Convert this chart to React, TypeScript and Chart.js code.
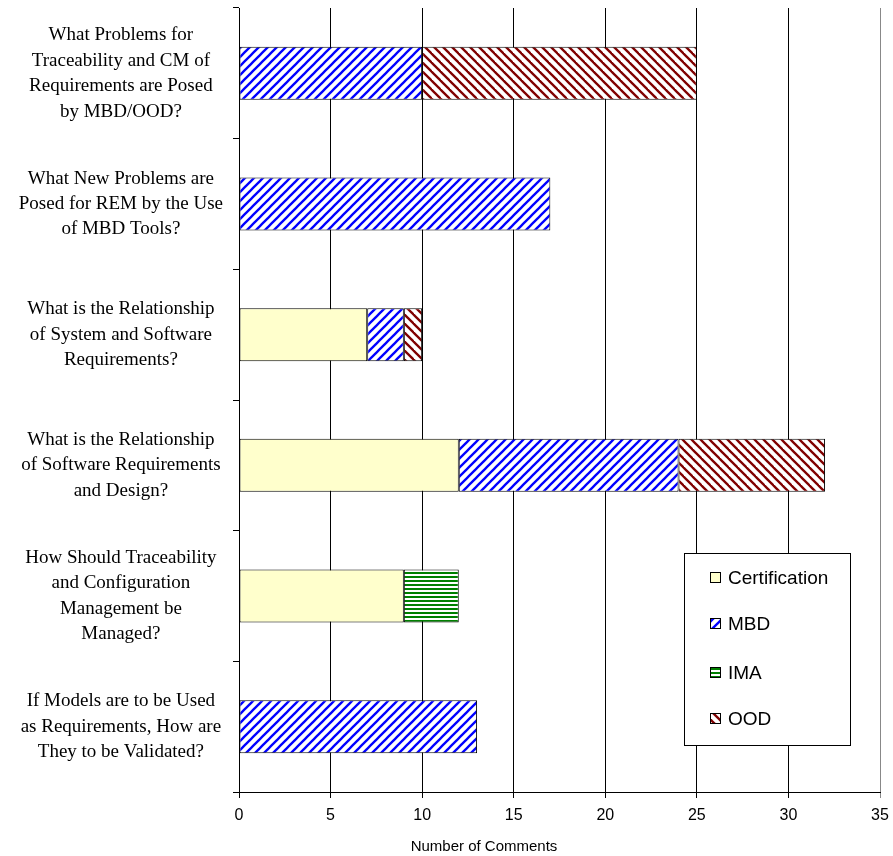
import React, { useEffect, useRef } from "react";
import { Chart, registerables } from "chart.js";

Chart.register(...registerables);

// Question categories (top to bottom), each split into display lines
const questions: string[][] = [
  ["What Problems for", "Traceability and CM of", "Requirements are Posed", "by MBD/OOD?"],
  ["What New Problems are", "Posed for REM by the Use", "of MBD Tools?"],
  ["What is the Relationship", "of System and Software", "Requirements?"],
  ["What is the Relationship", "of Software Requirements", "and Design?"],
  ["How Should Traceability", "and Configuration", "Management be", "Managed?"],
  ["If Models are to be Used", "as Requirements, How are", "They to be Validated?"],
];

// Number of comments per topic area
const certification: (number | null)[] = [null, null, 7, 12, 9, null];
const mbd: (number | null)[] = [10, 17, 2, 12, null, 13];
const ima: (number | null)[] = [null, null, null, null, 3, null];
const ood: (number | null)[] = [15, null, 1, 8, null, null];

const seriesNames = ["Certification", "MBD", "IMA", "OOD"];
const xTitle = "Number of Comments";
const xMin = 0;
const xMax = 35;
const xStep = 5;

function makeTile(size: number, paint: (c: CanvasRenderingContext2D) => void): CanvasPattern {
  const cv = document.createElement("canvas");
  cv.width = size;
  cv.height = size;
  const c = cv.getContext("2d")!;
  c.fillStyle = "#ffffff";
  c.fillRect(0, 0, size, size);
  paint(c);
  return c.createPattern(cv, "repeat")!;
}

function diagonal(color: string, rising: boolean): CanvasPattern {
  const s = 9;
  return makeTile(s, (c) => {
    c.strokeStyle = color;
    c.lineWidth = 2.3;
    for (let k = -1; k <= 2; k++) {
      c.beginPath();
      if (rising) {
        c.moveTo(-3, k * s + 3);
        c.lineTo(s + 3, k * s - s - 3);
      } else {
        c.moveTo(-3, k * s - 3);
        c.lineTo(s + 3, k * s + s + 3);
      }
      c.stroke();
    }
  });
}

function horizontal(color: string): CanvasPattern {
  return makeTile(4, (c) => {
    c.fillStyle = color;
    c.fillRect(0, 0, 4, 2);
  });
}

export default function App() {
  const ref = useRef<HTMLCanvasElement>(null);

  useEffect(() => {
    if (!ref.current) return;
    const fills: (string | CanvasPattern)[] = [
      "#FFFFCC",
      diagonal("#0000FF", true),
      horizontal("#008000"),
      diagonal("#800000", false),
    ];

    // Boxed legend inside the plot, plus the axis title below the ticks
    const overlay = {
      id: "overlay",
      afterDraw(chart: Chart) {
        const c = chart.ctx;
        c.save();
        c.fillStyle = "#ffffff";
        c.fillRect(684, 553, 166, 192);
        c.strokeStyle = "#000000";
        c.lineWidth = 1;
        c.strokeRect(684.5, 553.5, 166, 192);
        c.font = '19px "Liberation Sans", Arial, sans-serif';
        c.textBaseline = "middle";
        c.textAlign = "left";
        const ys = [578, 624, 673, 719];
        seriesNames.forEach((name, i) => {
          const y = ys[i];
          c.fillStyle = fills[i] as any;
          c.fillRect(710, y - 5, 10, 10);
          c.strokeStyle = "#000000";
          c.strokeRect(710.5, y - 5.5, 10, 10);
          c.fillStyle = "#000000";
          c.fillText(name, 728, y + 1);
        });

        c.font = '15px "Liberation Sans", Arial, sans-serif';
        c.textAlign = "center";
        c.textBaseline = "middle";
        c.fillStyle = "#000000";
        c.fillText(xTitle, 484, 847);
        c.restore();
      },
    };

    const values = [certification, mbd, ima, ood];
    const chart = new Chart(ref.current, {
      type: "bar",
      data: {
        labels: questions,
        datasets: seriesNames.map((name, i) => ({
          label: name,
          data: values[i],
          backgroundColor: fills[i] as any,
          borderColor: "#000000",
          borderWidth: 1,
          borderSkipped: false,
          categoryPercentage: 1,
          barPercentage: 0.405,
        })),
      },
      options: {
        indexAxis: "y",
        responsive: false,
        animation: false,
        devicePixelRatio: 1,
        layout: { padding: { top: 8, right: 13, left: 0, bottom: 0 } },
        plugins: {
          legend: { display: false },
          tooltip: { enabled: false },
        },
        scales: {
          x: {
            stacked: true,
            min: xMin,
            max: xMax,
            ticks: {
              stepSize: xStep,
              color: "#000000",
              padding: 8,
              font: { family: '"Liberation Sans", Arial, sans-serif', size: 16 },
            },
            grid: {
              color: (ctx: any) => (ctx.index === 7 ? "#888888" : "#000000"),
              lineWidth: 1,
              tickLength: 6,
            },
            border: { display: true, color: "#000000", width: 1 },
            afterFit: (scale: any) => {
              scale.height = 64;
              scale.paddingLeft = 0;
              scale.paddingRight = 0;
            },
          },
          y: {
            stacked: true,
            ticks: {
              color: "#000000",
              crossAlign: "center",
              padding: 10,
              font: { family: '"Liberation Serif", "Times New Roman", serif', size: 19, lineHeight: 1.34 },
            },
            grid: {
              offset: true,
              drawOnChartArea: false,
              color: "#000000",
              tickLength: 6,
            },
            border: { display: true, color: "#000000", width: 1 },
            afterFit: (scale: any) => {
              scale.width = 239;
              scale.paddingTop = 0;
              scale.paddingBottom = 0;
            },
          },
        },
      },
      plugins: [overlay],
    });
    return () => chart.destroy();
  }, []);

  return (
    <div style={{ position: "absolute", left: 0, top: 0, width: 893, height: 856, background: "#ffffff" }}>
      <canvas ref={ref} width={893} height={856} />
    </div>
  );
}
